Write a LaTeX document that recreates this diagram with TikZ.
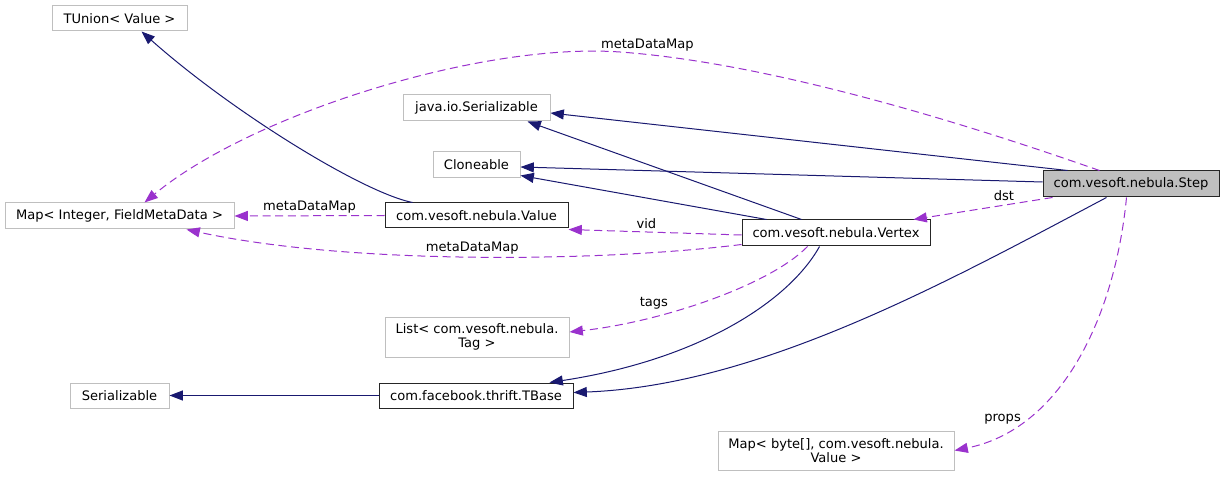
\documentclass[tikz,border=0pt]{standalone}
\usepackage{fontspec}
\setmainfont{DejaVu Sans}
\usetikzlibrary{arrows.meta,calc}
\definecolor{navy}{HTML}{191970}
\definecolor{orchid}{HTML}{9A32CD}
\definecolor{boxgray}{HTML}{BFBFBF}
\begin{document}
\begin{tikzpicture}[x=0.75pt,y=-0.75pt,
  every node/.style={font=\fontsize{9.8}{10.6}\selectfont, inner sep=0pt},
  gbox/.style 2 args={draw=boxgray, line width=0.75pt, minimum width=#1*0.75pt, minimum height=#2*0.75pt, align=center},
  kbox/.style 2 args={gbox={#1}{#2}, draw=black!85},
  inh/.style={draw=navy, line width=0.75pt, -{Triangle[length=10pt,width=7.5pt]}},
  use/.style={draw=orchid, line width=0.75pt, dash pattern=on 6pt off 3.5pt, -{Triangle[length=10pt,width=7.5pt]}}]
\useasboundingbox (0,0) rectangle (1224,477);

\node[gbox={135}{25}] (tunion) at (119.5,18.5) {TUnion< Value >};
\node[gbox={229}{26}] (mapint) at (119.5,216) {Map< Integer, FieldMetaData >};
\node[kbox={183}{25}] (value) at (476.5,215.5) {com.vesoft.nebula.Value};
\node[gbox={147}{26}] (javaser) at (476.5,108) {java.io.Serializable};
\node[gbox={87}{26}] (clone) at (476.5,165) {Cloneable};
\node[kbox={188}{26}] (vertex) at (836,233) {com.vesoft.nebula.Vertex};
\node[kbox={176}{26}, fill=boxgray] (step) at (1131,184) {com.vesoft.nebula.Step};
\node[gbox={184}{40}] (list) at (477,337) {List< com.vesoft.nebula.\\Tag >};
\node[kbox={194}{25}] (tbase) at (476,395.5) {com.facebook.thrift.TBase};
\node[gbox={99}{25}] (ser) at (119.5,395.5) {Serializable};
\node[gbox={236}{39}] (mapbyte) at (836,450.5) {Map< byte[], com.vesoft.nebula.\\Value >};

% inheritance edges
\draw[inh] ($(value.north west)+(28,0)$) .. controls +(-50,-10) and +(90,80) .. ($(tunion.south west)+(90,0)$);
\draw[inh] ($(step.north west)+(25,0)$) -- ($(javaser.east)+(0,5)$);
\draw[inh] ($(step.west)+(0,-2)$) -- ($(clone.east)+(0,2)$);
\draw[inh] ($(vertex.north west)+(60,0)$) -- ($(javaser.south east)+(-23,0)$);
\draw[inh] ($(vertex.north west)+(25,0)$) -- ($(clone.south east)+(0,-3)$);
\draw[inh] ($(vertex.south west)+(78,0)$) .. controls +(-30,54) and +(151,-23) .. ($(tbase.north east)+(-24,0)$);
\draw[inh] ($(step.south west)+(64,0)$) .. controls +(-157,83) and +(187,-7) .. ($(tbase.east)+(0,-3)$);
\draw[inh] (tbase.west) -- (ser.east);

% usage edges
\draw[use] (value.west) -- node[above=1.5pt]{metaDataMap} (mapint.east);
\draw[use] ($(step.north west)+(57,0)$) .. controls (1040,150) and (800,65) .. (620,52) node[pos=0.95,above=2pt]{metaDataMap}
  .. controls (480,42) and (250,115) .. ($(mapint.north west)+(140,0)$);
\draw[use] ($(step.south west)+(10,0)$) -- node[pos=0.35,above=3pt]{dst} ($(vertex.north east)+(-17,0)$);
\draw[use] ($(vertex.west)+(0,2)$) -- node[pos=0.55,above=2pt]{vid} ($(value.south east)+(0,1)$);
\draw[use] ($(vertex.south west)+(0,-2)$) .. controls (600,262) and (350,265) .. ($(mapint.south west)+(182,0)$) node[pos=0.5,above=1.5pt]{metaDataMap};
\draw[use] ($(vertex.south west)+(66,0)$) .. controls +(-38,39) and +(91,-10) .. ($(list.east)+(0,-5)$) node[pos=0.7,above=5pt]{tags};
\draw[use] ($(step.south west)+(84,0)$) .. controls +(-12,123) and +(105,-21) .. (mapbyte.east) node[pos=0.75,left=2pt]{props};
\end{tikzpicture}
\end{document}
